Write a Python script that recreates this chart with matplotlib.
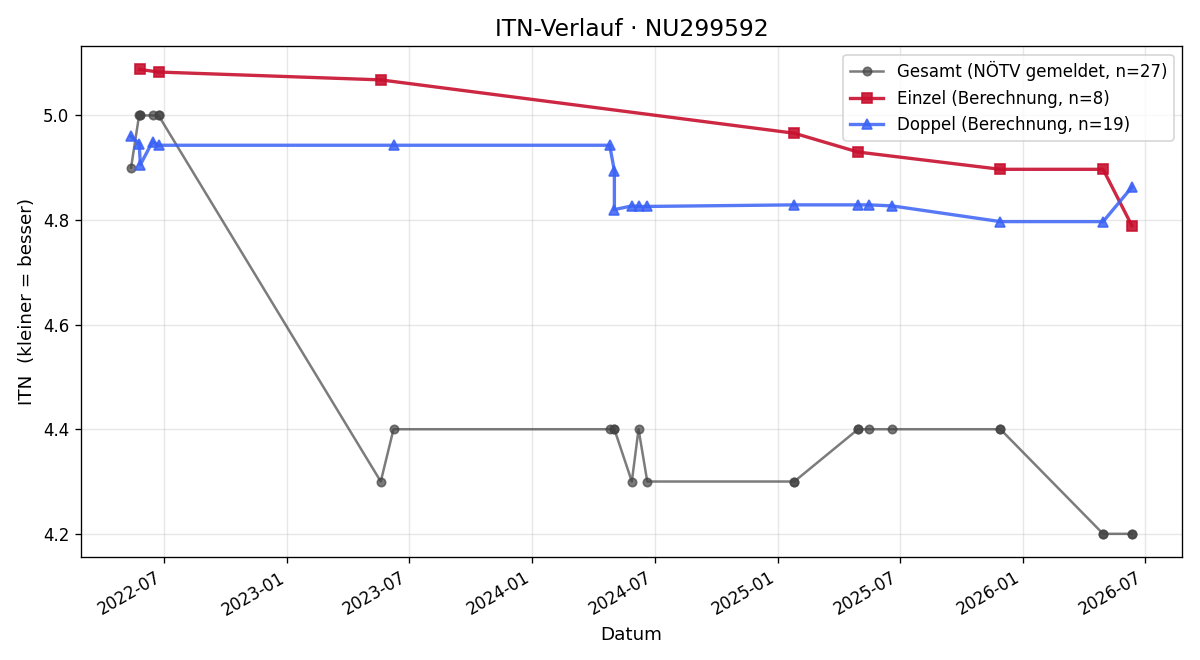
import pandas as pd
import matplotlib.pyplot as plt
import matplotlib.dates as mdates

# Daten
gesamt_dates = ['2022-05-13', '2022-05-25', '2022-05-26', '2022-05-27', '2022-06-14',
                '2022-06-23', '2022-06-23', '2023-05-20', '2023-06-08', '2024-04-25',
                '2024-05-02', '2024-05-02', '2024-05-28', '2024-06-07', '2024-06-20',
                '2025-01-25', '2025-01-25', '2025-04-30', '2025-04-30', '2025-05-17',
                '2025-06-20', '2025-11-28', '2025-11-28', '2026-04-30', '2026-04-30',
                '2026-06-12', '2026-06-12']
gesamt_itn = [4.9, 5.0, 5.0, 5.0, 5.0,
              5.0, 5.0, 4.3, 4.4, 4.4,
              4.4, 4.4, 4.3, 4.4, 4.3,
              4.3, 4.3, 4.4, 4.4, 4.4,
              4.4, 4.4, 4.4, 4.2, 4.2,
              4.2, 4.2]

einzel_dates = ['2022-05-26', '2022-06-23', '2023-05-20', '2025-01-25',
                '2025-04-30', '2025-11-28', '2026-04-30', '2026-06-12']
einzel_itn = [5.088, 5.083, 5.068, 4.966, 4.930, 4.897, 4.897, 4.789]

doppel_dates = ['2022-05-13', '2022-05-25', '2022-05-27', '2022-06-14', '2022-06-23',
                '2023-06-08', '2024-04-25', '2024-05-02', '2024-05-02', '2024-05-28',
                '2024-06-07', '2024-06-20', '2025-01-25', '2025-04-30', '2025-05-17',
                '2025-06-20', '2025-11-28', '2026-04-30', '2026-06-12']
doppel_itn = [4.960, 4.946, 4.906, 4.950, 4.943,
              4.943, 4.943, 4.894, 4.820, 4.827,
              4.826, 4.826, 4.829, 4.829, 4.829,
              4.827, 4.797, 4.797, 4.863]

gesamt_dates = pd.to_datetime(gesamt_dates)
einzel_dates = pd.to_datetime(einzel_dates)
doppel_dates = pd.to_datetime(doppel_dates)

fig, ax = plt.subplots(figsize=(10, 5.5), dpi=120)

ax.plot(gesamt_dates, gesamt_itn, marker='o', color='#444444', alpha=0.7,
        linewidth=1.5, markersize=5, label=f'Gesamt (NÖTV gemeldet, n={len(gesamt_itn)})')
ax.plot(einzel_dates, einzel_itn, marker='s', color='#c8102e', alpha=0.9,
        linewidth=2, markersize=6, label=f'Einzel (Berechnung, n={len(einzel_itn)})')
ax.plot(doppel_dates, doppel_itn, marker='^', color='#3a62f5', alpha=0.85,
        linewidth=2, markersize=6, label=f'Doppel (Berechnung, n={len(doppel_itn)})')

ax.set_title('ITN-Verlauf · NU299592', fontsize=14)
ax.set_xlabel('Datum', fontsize=11)
ax.set_ylabel('ITN  (kleiner = besser)', fontsize=11)
ax.xaxis.set_major_locator(mdates.MonthLocator(bymonth=[1, 7]))
ax.xaxis.set_major_formatter(mdates.DateFormatter('%Y-%m'))
ax.grid(True, alpha=0.3)
ax.legend(loc='upper right', fontsize=10)
fig.autofmt_xdate()

fig.subplots_adjust(left=0.0675, right=0.985, top=0.930, bottom=0.156)
plt.savefig('out.png', dpi=120)
